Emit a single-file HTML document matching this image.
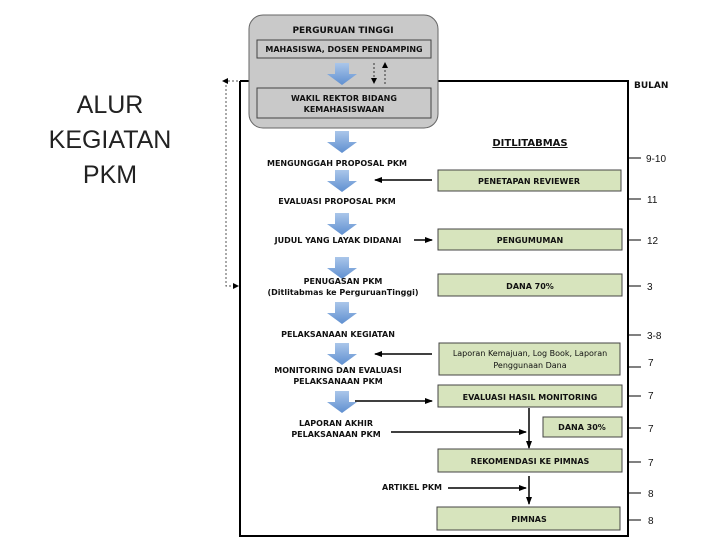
<!DOCTYPE html>
<html><head><meta charset="utf-8"><style>
body{margin:0;background:#fff}
svg text{font-family:"DejaVu Sans","Liberation Sans",sans-serif;font-weight:bold;font-size:8px;fill:#111}
.n{font-family:"Liberation Sans",sans-serif;font-weight:normal;font-size:10px}
</style></head><body>
<svg width="720" height="540" xmlns="http://www.w3.org/2000/svg">
<defs>
<linearGradient id="bg" x1="0" y1="0" x2="0" y2="1"><stop offset="0" stop-color="#aac6ea"/><stop offset="1" stop-color="#5f8fd0"/></linearGradient>
<marker id="ah" markerWidth="8" markerHeight="8" refX="7" refY="4" orient="auto" markerUnits="userSpaceOnUse"><path d="M0,1 L8,4 L0,7z" fill="#000"/></marker>
<symbol id="ba" viewBox="0 0 30 22"><path d="M8,0 H22 V11 H30 L15,22 L0,11 H8z" fill="url(#bg)"/></symbol>
</defs>
<text x="110" y="113" text-anchor="middle" style="font-family:'Liberation Sans',sans-serif;font-weight:normal;font-size:25px;fill:#222">ALUR</text>
<text x="110" y="148" text-anchor="middle" style="font-family:'Liberation Sans',sans-serif;font-weight:normal;font-size:25px;fill:#222">KEGIATAN</text>
<text x="110" y="183" text-anchor="middle" style="font-family:'Liberation Sans',sans-serif;font-weight:normal;font-size:25px;fill:#222">PKM</text>
<!-- frame -->
<path d="M240,81 V536 H628 V81 H430" fill="none" stroke="#000" stroke-width="2"/>
<line x1="240" y1="81" x2="255" y2="81" stroke="#000" stroke-width="2"/>
<!-- dotted left -->
<path d="M238,81 H226 V286 H236" fill="none" stroke="#555" stroke-dasharray="2,2"/>
<path d="M222,81 L228,78 V84z" fill="#000"/><path d="M239,286 L233,283 V289z" fill="#000"/>
<!-- gray box -->
<rect x="249" y="15" width="189" height="113" rx="14" fill="#c9c9c9" stroke="#666"/>
<text x="343" y="33" text-anchor="middle" style="font-size:9px">PERGURUAN TINGGI</text>
<rect x="257" y="40" width="174" height="18" fill="#c9c9c9" stroke="#444"/>
<text x="344" y="52" text-anchor="middle">MAHASISWA, DOSEN PENDAMPING</text>
<rect x="257" y="88" width="174" height="30" fill="#c9c9c9" stroke="#444"/>
<text x="344" y="101" text-anchor="middle">WAKIL REKTOR BIDANG</text>
<text x="344" y="112" text-anchor="middle">KEMAHASISWAAN</text>
<use href="#ba" x="327" y="63" width="30" height="22"/>
<line x1="374" y1="63" x2="374" y2="80" stroke="#333" stroke-dasharray="2,2"/><path d="M371,78 L374,84 L377,78z" fill="#000"/>
<line x1="385" y1="66" x2="385" y2="84" stroke="#333" stroke-dasharray="2,2"/><path d="M382,68 L385,62 L388,68z" fill="#000"/>
<!-- blue arrows -->
<use href="#ba" x="327" y="131" width="30" height="22"/>
<use href="#ba" x="327" y="170" width="30" height="22"/>
<use href="#ba" x="327" y="213" width="30" height="22"/>
<use href="#ba" x="327" y="257" width="30" height="22"/>
<use href="#ba" x="327" y="302" width="30" height="22"/>
<use href="#ba" x="327" y="343" width="30" height="22"/>
<use href="#ba" x="327" y="391" width="30" height="22"/>
<!-- left labels -->
<text x="337" y="166" text-anchor="middle">MENGUNGGAH PROPOSAL PKM</text>
<text x="337" y="204" text-anchor="middle">EVALUASI PROPOSAL PKM</text>
<text x="338" y="243" text-anchor="middle">JUDUL YANG LAYAK DIDANAI</text>
<text x="343" y="284" text-anchor="middle">PENUGASAN PKM</text>
<text x="343" y="295" text-anchor="middle">(Ditlitabmas ke PerguruanTinggi)</text>
<text x="338" y="337" text-anchor="middle">PELAKSANAAN KEGIATAN</text>
<text x="338" y="373" text-anchor="middle">MONITORING DAN EVALUASI</text>
<text x="338" y="384" text-anchor="middle">PELAKSANAAN PKM</text>
<text x="336" y="426" text-anchor="middle">LAPORAN AKHIR</text>
<text x="336" y="437" text-anchor="middle">PELAKSANAAN PKM</text>
<text x="412" y="490" text-anchor="middle">ARTIKEL PKM</text>
<text x="530" y="146" text-anchor="middle" style="font-size:10px;text-decoration:underline">DITLITABMAS</text>
<text x="634" y="88" style="font-size:9px">BULAN</text>
<!-- green boxes -->
<g fill="#d7e4bd" stroke="#444">
<rect x="438" y="170" width="183" height="21"/>
<rect x="438" y="229" width="184" height="21"/>
<rect x="438" y="274" width="184" height="22"/>
<rect x="439" y="343" width="181" height="32"/>
<rect x="438" y="385" width="184" height="22"/>
<rect x="543" y="417" width="79" height="20"/>
<rect x="438" y="449" width="184" height="23"/>
<rect x="437" y="507" width="183" height="23"/>
</g>
<text x="529" y="184" text-anchor="middle">PENETAPAN REVIEWER</text>
<text x="530" y="243" text-anchor="middle">PENGUMUMAN</text>
<text x="530" y="289" text-anchor="middle">DANA 70%</text>
<text x="530" y="356" text-anchor="middle" style="font-weight:normal">Laporan Kemajuan, Log Book, Laporan</text>
<text x="530" y="368" text-anchor="middle" style="font-weight:normal">Penggunaan Dana</text>
<text x="530" y="400" text-anchor="middle">EVALUASI HASIL MONITORING</text>
<text x="582" y="430" text-anchor="middle">DANA 30%</text>
<text x="530" y="464" text-anchor="middle">REKOMENDASI KE PIMNAS</text>
<text x="529" y="522" text-anchor="middle">PIMNAS</text>
<!-- black arrows -->
<g stroke="#000" stroke-width="1.5">
<line x1="432" y1="180" x2="375" y2="180" marker-end="url(#ah)"/>
<line x1="414" y1="240" x2="432" y2="240" marker-end="url(#ah)"/>
<line x1="432" y1="354" x2="375" y2="354" marker-end="url(#ah)"/>
<line x1="355" y1="401" x2="432" y2="401" marker-end="url(#ah)"/>
<line x1="391" y1="432" x2="526" y2="432" marker-end="url(#ah)"/>
<line x1="529" y1="408" x2="529" y2="448" marker-end="url(#ah)"/>
<line x1="448" y1="488" x2="526" y2="488" marker-end="url(#ah)"/>
<line x1="529" y1="476" x2="529" y2="504" marker-end="url(#ah)"/>
</g>
<!-- ticks -->
<g stroke="#000" stroke-width="1">
<line x1="629" y1="158" x2="641" y2="158"/><line x1="629" y1="199" x2="641" y2="199"/>
<line x1="629" y1="240" x2="641" y2="240"/><line x1="629" y1="286" x2="641" y2="286"/>
<line x1="629" y1="335" x2="641" y2="335"/><line x1="629" y1="367" x2="641" y2="367"/>
<line x1="629" y1="396" x2="641" y2="396"/><line x1="629" y1="428" x2="641" y2="428"/>
<line x1="629" y1="462" x2="641" y2="462"/><line x1="629" y1="493" x2="641" y2="493"/>
<line x1="629" y1="520" x2="641" y2="520"/>
</g>
<text class="n" x="646" y="162">9-10</text><text class="n" x="647" y="203">11</text>
<text class="n" x="647" y="244">12</text><text class="n" x="647" y="290">3</text>
<text class="n" x="647" y="339">3-8</text><text class="n" x="648" y="366">7</text>
<text class="n" x="648" y="399">7</text><text class="n" x="648" y="432">7</text>
<text class="n" x="648" y="466">7</text><text class="n" x="648" y="497">8</text>
<text class="n" x="648" y="524">8</text>
</svg>
</body></html>
